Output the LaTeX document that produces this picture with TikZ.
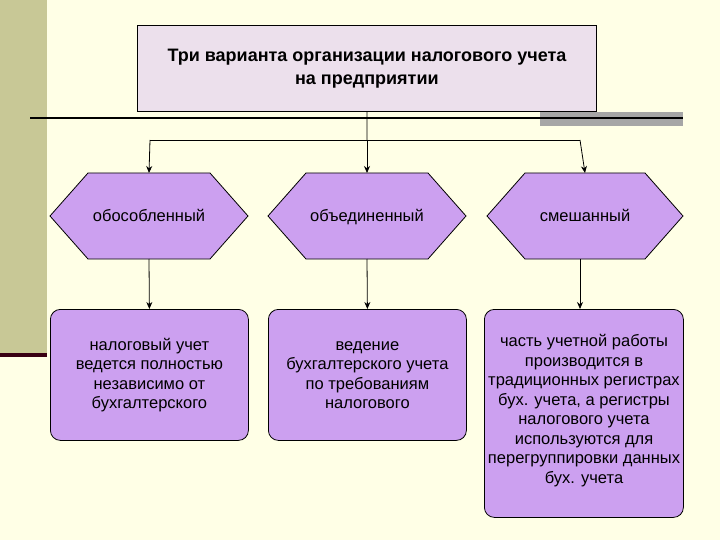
\documentclass[tikz,border=0pt]{standalone}
\usepackage{fontspec}
\setmainfont{Liberation Sans}
\usetikzlibrary{arrows.meta}
\definecolor{bg}{RGB}{255,255,230}
\definecolor{olive}{RGB}{200,200,150}
\definecolor{titlef}{RGB}{236,224,236}
\definecolor{lav}{RGB}{204,160,240}
\begin{document}
\begin{tikzpicture}[x=1pt,y=-1pt,
  hexa/.style={draw,fill=lav,line width=0.8pt},
  rbox/.style={draw,fill=lav,rounded corners=10pt,line width=0.8pt,align=center,inner sep=0pt},
  arr/.style={-{Stealth[length=7pt,width=6pt]},line width=0.8pt},
  txt/.style={font=\fontsize{16.5}{19.5}\selectfont,align=center}]
\fill[bg] (0,0) rectangle (720,540);
\useasboundingbox (0,0) rectangle (720,540);
\fill[olive] (0,0) rectangle (47,355);
\fill[black!70!purple] (0,353) rectangle (47,357);
\fill[gray!70] (540,112) rectangle (683,126);
\draw[line width=2.5pt] (30,118) -- (683,118);
\node[draw,fill=titlef,minimum width=459pt,minimum height=86pt,anchor=north west,line width=0.8pt,align=center,font=\bfseries\fontsize{18}{23}\selectfont] (t) at (137,25) {Три варианта организации налогового учета\\на предприятии};
% hexagons
\foreach \n/\a/\b/\s in {h1/50/248/обособленный,h2/268/466/объединенный,h3/487/683/смешанный}{
  \draw[hexa] (\a,216) -- (\a+38,173) -- (\b-38,173) -- (\b,216) -- (\b-38,259) -- (\a+38,259) -- cycle;
  \node[txt,anchor=base] (\n) at ({(\a+\b)/2},222) {\s};
  \coordinate (\n t) at ({(\a+\b)/2},173);
  \coordinate (\n b) at ({(\a+\b)/2},259);
}
\node[rbox,minimum width=198pt,minimum height=131pt,anchor=north west] (b1) at (50,309) {};
\node[txt] at (b1) {налоговый учет\\ведется полностью\\независимо от\\бухгалтерского};
\node[rbox,minimum width=198pt,minimum height=131pt,anchor=north west] (b2) at (268,309) {};
\node[txt] at (b2) {ведение\\бухгалтерского учета\\по требованиям\\налогового};
\node[rbox,minimum width=199pt,minimum height=208pt,anchor=north west] (b3) at (484,309) {};
\node[txt,anchor=north] at (584,331) {часть учетной работы\\производится в\\традиционных регистрах\\бух. учета, а регистры\\налогового учета\\используются для\\перегруппировки данных\\бух. учета};
\coordinate (j) at (367,140);
\draw[line width=0.8pt] (t.south) -- (j);
\draw[line width=0.8pt] (150,140) -- (580,140);
\draw[arr] (150,140) -- (h1t);
\draw[arr] (j) -- (h2t);
\draw[arr] (580,140) -- (h3t);
\draw[arr] (h1b) -- (b1.north);
\draw[arr] (h2b) -- (b2.north);
\draw[arr] (580,259) -- (580,309);
\end{tikzpicture}
\end{document}
